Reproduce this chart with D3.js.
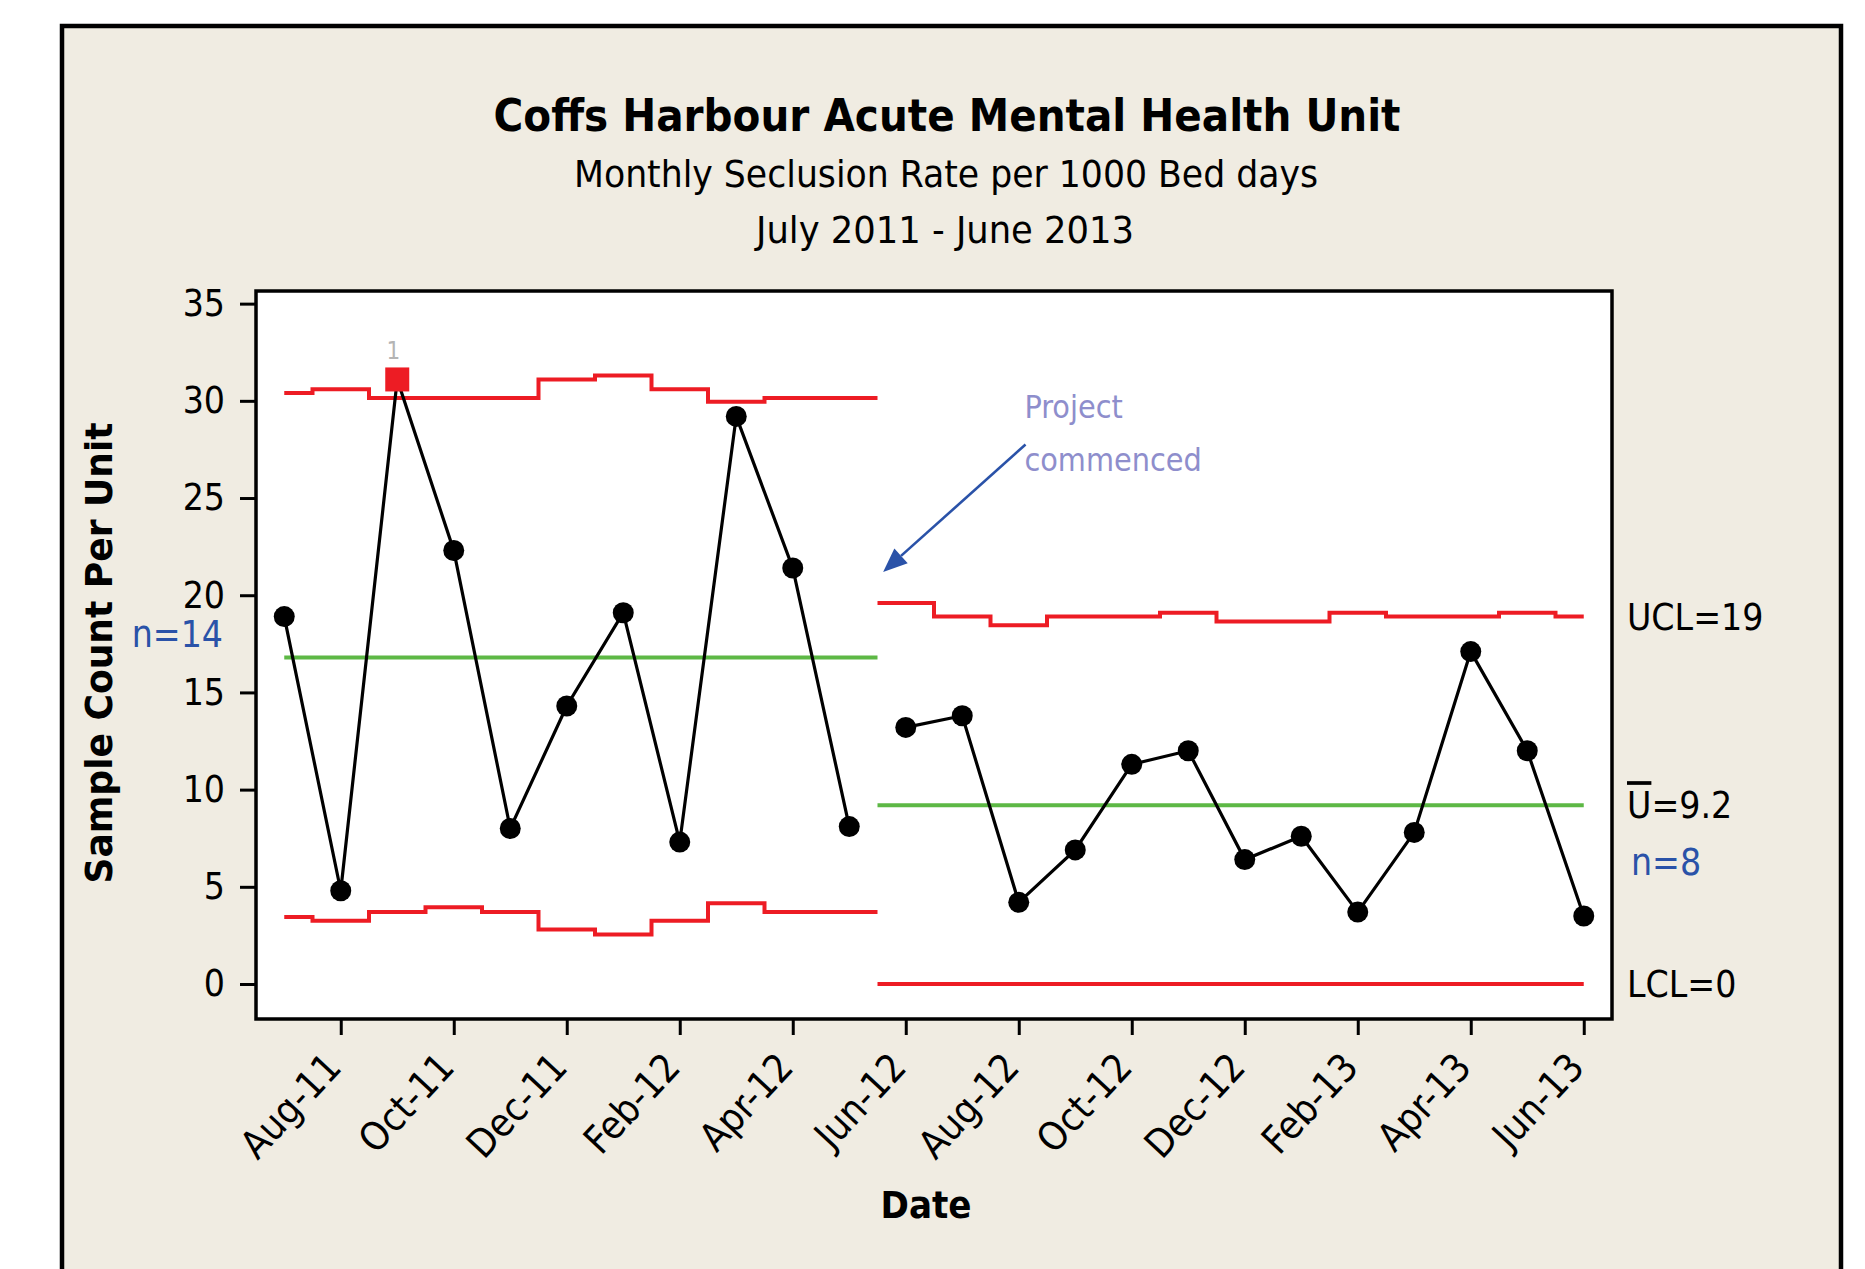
<!DOCTYPE html>
<html><head><meta charset="utf-8">
<script src="https://cdn.jsdelivr.net/npm/d3@7"></script>
<style>
html,body{margin:0;padding:0;background:#fff;}
svg{display:block;}
text{font-family:"DejaVu Sans Condensed","DejaVu Sans",sans-serif;font-stretch:condensed;}
</style></head><body>
<script>
// ---------- data ----------
const months = ["Jul-11","Aug-11","Sep-11","Oct-11","Nov-11","Dec-11","Jan-12","Feb-12","Mar-12","Apr-12","May-12",
                "Jun-12","Jul-12","Aug-12","Sep-12","Oct-12","Nov-12","Dec-12","Jan-13","Feb-13","Mar-13","Apr-13","May-13","Jun-13"];
const values = [18.9, 4.8, 31.1, 22.3, 8.0, 14.3, 19.1, 7.3, 29.2, 21.4, 8.1,
                13.2, 13.8, 4.2, 6.9, 11.3, 12.0, 6.4, 7.6, 3.7, 7.8, 17.1, 12.0, 3.5];
const stageOf = [0,0,0,0,0,0,0,0,0,0,0, 1,1,1,1,1,1,1,1,1,1,1,1,1];
const ucl = [30.4, 30.6, 30.15, 30.15, 30.15, 31.1, 31.3, 30.6, 29.95, 30.15, 30.15,
             19.6, 18.9, 18.45, 18.9, 18.9, 19.1, 18.65, 18.65, 19.1, 18.9, 18.9, 19.1, 18.9];
const lcl = [3.45, 3.25, 3.7, 3.95, 3.7, 2.8, 2.55, 3.25, 4.15, 3.7, 3.7,
             0,0,0,0,0,0,0,0,0,0,0,0,0];
const centerLines = [16.8, 9.2];
const stageRanges = [[0, 10.5], [10.5, 23]];
const stageN = ["n=14", "n=8"];
const failIdx = [2];
const yTicks = [0, 5, 10, 15, 20, 25, 30, 35];
const xTickIdx = [1, 3, 5, 7, 9, 11, 13, 15, 17, 19, 21, 23];
const titleLines = ["Coffs Harbour Acute Mental Health Unit", "Monthly Seclusion Rate per 1000 Bed days", "July 2011 - June 2013"];
const limitLabels = [{pre:"UCL=19", v:18.9}, {pre:"U", post:"=9.2", v:9.2, bar:true}, {pre:"LCL=0", v:0}];
const annotation = {lines:["Project","commenced"], at:[13.1, 29.1], lineGap:2.7, from:[13.12, 27.75], to:[10.6, 21.2]};

// ---------- layout ----------
const W = 1865, H = 1269;
const plot = {left:256, right:1612, top:291, bottom:1019};
const RED = "#ED1C24", GREEN = "#5DB845", BLUE = "#2A52A8", BEIGE = "#F0ECE2";

const svg = d3.select("body").append("svg").attr("width", W).attr("height", H);

svg.append("rect").attr("x", 62).attr("y", 26).attr("width", 1779).attr("height", 1400)
  .attr("fill", BEIGE).attr("stroke", "#000").attr("stroke-width", 4.5);

const x = d3.scaleLinear().domain([-0.5, 23.5]).range([plot.left, plot.right]);
const y = d3.scaleLinear().domain([-1.8, 35.65]).range([plot.bottom, plot.top]);

// titles
const tl = [{y:131, size:44, w:907, bold:true, x:947}, {y:187, size:38, w:744, x:946}, {y:243, size:38, w:378, x:945}];
titleLines.forEach((t, i) => {
  svg.append("text").attr("x", tl[i].x).attr("y", tl[i].y).attr("text-anchor", "middle")
    .attr("font-size", tl[i].size).attr("font-weight", tl[i].bold ? "bold" : "normal")
    .attr("textLength", tl[i].w).attr("lengthAdjust", "spacingAndGlyphs").attr("fill", "#000").text(t);
});

// plot frame
svg.append("rect").attr("x", plot.left).attr("y", plot.top)
  .attr("width", plot.right - plot.left).attr("height", plot.bottom - plot.top)
  .attr("fill", "#fff").attr("stroke", "#000").attr("stroke-width", 3.5);

// axes
const yAxis = svg.append("g").attr("transform", `translate(${plot.left},0)`)
  .call(d3.axisLeft(y).tickValues(yTicks).tickSize(16).tickPadding(15));
yAxis.select(".domain").remove();
yAxis.selectAll("line").attr("stroke", "#000").attr("stroke-width", 3);
yAxis.selectAll("text").attr("font-size", 37).attr("fill", "#000")
  .attr("font-family", '"DejaVu Sans Condensed","DejaVu Sans",sans-serif');

const xAxis = svg.append("g").attr("transform", `translate(0,${plot.bottom})`)
  .call(d3.axisBottom(x).tickValues(xTickIdx).tickFormat(i => months[i]).tickSize(16));
xAxis.select(".domain").remove();
xAxis.selectAll("line").attr("stroke", "#000").attr("stroke-width", 3);
xAxis.selectAll("text").attr("font-size", 39).attr("fill", "#000")
  .attr("font-family", '"DejaVu Sans Condensed","DejaVu Sans",sans-serif')
  .attr("text-anchor", "end").attr("x", 0).attr("y", 0).attr("dy", null)
  .attr("transform", "translate(2,50) rotate(-47)");

// axis titles
svg.append("text").attr("transform", `translate(112,${(plot.top + plot.bottom) / 2 - 2}) rotate(-90)`)
  .attr("text-anchor", "middle").attr("font-size", 38).attr("font-weight", "bold")
  .attr("textLength", 461).attr("lengthAdjust", "spacingAndGlyphs").text("Sample Count Per Unit");
svg.append("text").attr("x", 926).attr("y", 1218).attr("text-anchor", "middle")
  .attr("font-size", 38).attr("font-weight", "bold").text("Date");

// step limit lines
const line = d3.line().x(d => x(d[0])).y(d => y(d[1]));
function stepPts(arr, s) {
  const [a, b] = stageRanges[s];
  const pts = [];
  arr.forEach((v, i) => {
    if (stageOf[i] !== s) return;
    pts.push([Math.max(i - 0.5, a), v]);
    pts.push([Math.min(i + 0.5, b), v]);
  });
  return pts;
}
[0, 1].forEach(s => {
  svg.append("path").attr("d", line([[stageRanges[s][0], centerLines[s]], [stageRanges[s][1], centerLines[s]]]))
    .attr("fill", "none").attr("stroke", GREEN).attr("stroke-width", 4);
  [ucl, lcl].forEach(arr => {
    svg.append("path").attr("d", line(stepPts(arr, s)))
      .attr("fill", "none").attr("stroke", RED).attr("stroke-width", 4);
  });
});

// data lines per stage
[0, 1].forEach(s => {
  const pts = values.map((v, i) => [i, v]).filter((d, i) => stageOf[i] === s);
  svg.append("path").attr("d", line(pts)).attr("fill", "none").attr("stroke", "#000").attr("stroke-width", 3.2);
});
svg.selectAll("circle.pt").data(values.map((v, i) => ({v, i})).filter(d => !failIdx.includes(d.i)))
  .enter().append("circle").attr("class", "pt")
  .attr("cx", d => x(d.i)).attr("cy", d => y(d.v)).attr("r", 10.5).attr("fill", "#000");
failIdx.forEach(i => {
  svg.append("rect").attr("x", x(i) - 12).attr("y", y(values[i]) - 12).attr("width", 24).attr("height", 24).attr("fill", RED);
  svg.append("text").attr("x", x(i) - 4).attr("y", y(values[i]) - 20).attr("text-anchor", "middle")
    .attr("font-size", 24).attr("fill", "#b4b4b4").text("1");
});

// stage n labels
svg.append("text").attr("x", 223).attr("y", y(centerLines[0]) - 10).attr("text-anchor", "end")
  .attr("font-size", 37).attr("fill", BLUE).text(stageN[0]);
svg.append("text").attr("x", 1631).attr("y", y(centerLines[1]) + 70)
  .attr("font-size", 37).attr("fill", BLUE).text(stageN[1]);

// right limit labels
limitLabels.forEach(l => {
  const t = svg.append("text").attr("x", 1627).attr("y", y(l.v) + 13).attr("font-size", 37).attr("fill", "#000");
  const a = t.append("tspan").text(l.pre);
  if (l.bar) a.style("text-decoration", "overline");
  if (l.post) t.append("tspan").text(l.post);
});

// annotation
annotation.lines.forEach((s, k) => {
  svg.append("text").attr("x", x(annotation.at[0])).attr("y", y(annotation.at[1] - k * annotation.lineGap))
    .attr("font-size", 32).attr("fill", "#8E8ECC").text(s);
});
const ax0 = x(annotation.from[0]), ay0 = y(annotation.from[1]);
const ax1 = x(annotation.to[0]), ay1 = y(annotation.to[1]);
const ang = Math.atan2(ay1 - ay0, ax1 - ax0);
const hl = 24, hw = 10;
const bx = ax1 - hl * Math.cos(ang), by = ay1 - hl * Math.sin(ang);
svg.append("line").attr("x1", ax0).attr("y1", ay0).attr("x2", bx).attr("y2", by)
  .attr("stroke", BLUE).attr("stroke-width", 2.6);
svg.append("polygon").attr("fill", BLUE).attr("points", [
  [ax1, ay1],
  [bx + hw * Math.sin(ang), by - hw * Math.cos(ang)],
  [bx - hw * Math.sin(ang), by + hw * Math.cos(ang)]
].map(p => p.join(",")).join(" "));
</script>
</body></html>
